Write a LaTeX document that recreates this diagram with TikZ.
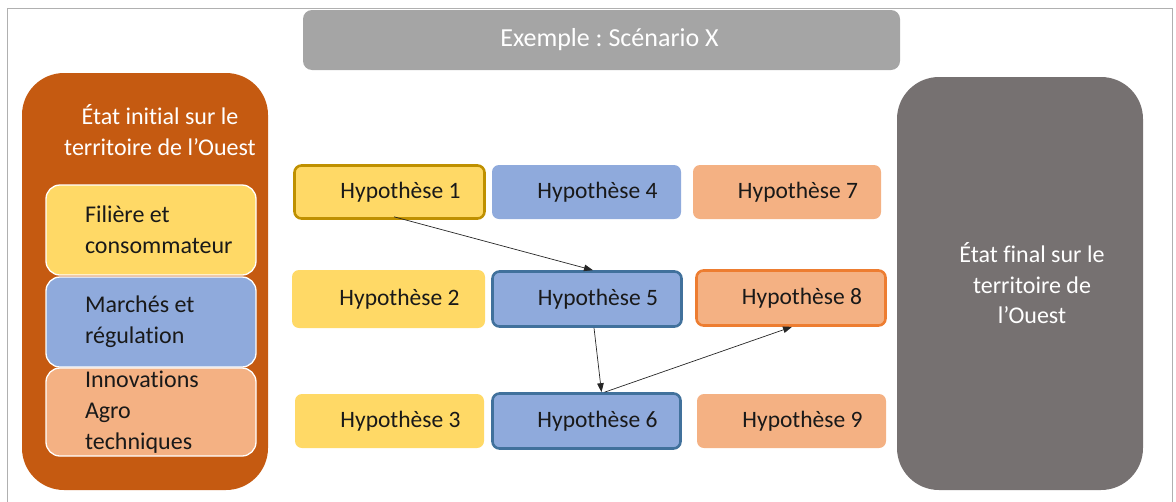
\documentclass[tikz,border=0pt]{standalone}
\usepackage{fontspec}
\setmainfont{Carlito}[Ligatures={NoCommon}]
\usetikzlibrary{arrows.meta}
\definecolor{titlegray}{HTML}{A5A5A5}
\definecolor{initorange}{HTML}{C55A11}
\definecolor{finalgray}{HTML}{767171}
\definecolor{hypyellow}{HTML}{FFD966}
\definecolor{hypblue}{HTML}{8FAADC}
\definecolor{hyporange}{HTML}{F4B183}
\definecolor{yellowline}{HTML}{BF9000}
\definecolor{blueline}{HTML}{41719C}
\definecolor{orangeline}{HTML}{ED7D31}
\definecolor{framegray}{HTML}{B0B0B0}
\tikzset{
  bigbox/.style={rounded corners=42pt, inner sep=0pt},
  hypbox/.style={rounded corners=7pt, inner sep=0pt, align=center,
    font=\fontsize{23.5}{28}\selectfont, text=black!90},
  catbox/.style={rounded corners=14pt, draw=white, line width=1.3pt, inner sep=0pt,
    minimum width=210pt, text=black!90},
  whitetext/.style={text=white, align=center, inner sep=0pt, font=\fontsize{24}{30.5}\selectfont},
  link/.style={-{Triangle[length=9pt,width=6.5pt]}, line width=0.7pt, black!85}
}
\newcommand{\cattext}[1]{\hspace*{38pt}\parbox[c]{170pt}{\fontsize{24}{31}\selectfont\raggedright #1}}
\newcommand{\hyptext}[1]{\hspace*{22pt}\raisebox{-2pt}{#1}}
\frenchspacing
\begin{document}
\begin{tikzpicture}[x=1pt,y=-1pt]
\useasboundingbox (0,0) rectangle (1176,501);
% outer frame
\draw[framegray, line width=1.3pt] (7.5,505) -- (7.5,8.5) -- (1172.5,8.5) -- (1172.5,505);
% title
\node[fill=titlegray, rounded corners=9pt, minimum width=597pt, minimum height=60pt, inner sep=0pt,
  text=white, font=\fontsize{26}{30}\selectfont] (title) at (601.5,40) {\hspace*{16pt}Exemple : Scénario X};
% left initial state
\node[bigbox, fill=initorange, minimum width=246pt, minimum height=417pt] (init) at (145,281.5) {};
\node[whitetext] (inittitle) at (160,130) {État initial sur le\\territoire de l’Ouest};
\node[catbox, fill=hypyellow, minimum height=90pt] (cat1) at (151,230) {\cattext{Filière et\\consommateur}};
\node[catbox, fill=hypblue, minimum height=90pt] (cat2) at (151,322) {\cattext{Marchés et\\régulation}};
\node[catbox, fill=hyporange, minimum height=88pt] (cat3) at (151,412) {\cattext{Innovations\\Agro\\techniques}};
% right final state
\node[bigbox, fill=finalgray, minimum width=246pt, minimum height=413pt] (final) at (1020,283.5) {};
\node[whitetext] (finaltitle) at (1032,283.5) {État final sur le\\territoire de\\l’Ouest};
% hypotheses
\node[hypbox, fill=hypyellow, draw=yellowline, line width=2.6pt, minimum width=190pt, minimum height=53pt] (h1) at (389.5,192) {\hyptext{Hypothèse 1}};
\node[hypbox, fill=hypyellow, minimum width=193pt, minimum height=58pt] (h2) at (388.5,299) {\hyptext{Hypothèse 2}};
\node[hypbox, fill=hypyellow, minimum width=189pt, minimum height=54pt] (h3) at (389.5,421) {\hyptext{Hypothèse 3}};
\node[hypbox, fill=hypblue, minimum width=189pt, minimum height=54pt] (h4) at (586.5,192) {\hyptext{Hypothèse 4}};
\node[hypbox, fill=hypblue, draw=blueline, line width=2.6pt, minimum width=189pt, minimum height=55pt] (h5) at (587,299) {\hyptext{Hypothèse 5}};
\node[hypbox, fill=hypblue, draw=blueline, line width=2.6pt, minimum width=188pt, minimum height=55pt] (h6) at (586.5,421) {\hyptext{Hypothèse 6}};
\node[hypbox, fill=hyporange, minimum width=188pt, minimum height=54pt] (h7) at (787,192) {\hyptext{Hypothèse 7}};
\node[hypbox, fill=hyporange, draw=orangeline, line width=2.6pt, minimum width=189pt, minimum height=55pt] (h8) at (791,298) {\hyptext{Hypothèse 8}};
\node[hypbox, fill=hyporange, minimum width=189pt, minimum height=54pt] (h9) at (791.5,421) {\hyptext{Hypothèse 9}};
% connectors
\draw[link] ([xshift=4.5pt,yshift=3pt]h1.south) -- ([xshift=6pt]h5.north);
\draw[link] ([xshift=7pt]h5.south) -- ([xshift=15pt]h6.north);
\draw[link] ([xshift=18pt]h6.north) -- ([xshift=1pt]h8.south);
\end{tikzpicture}
\end{document}
